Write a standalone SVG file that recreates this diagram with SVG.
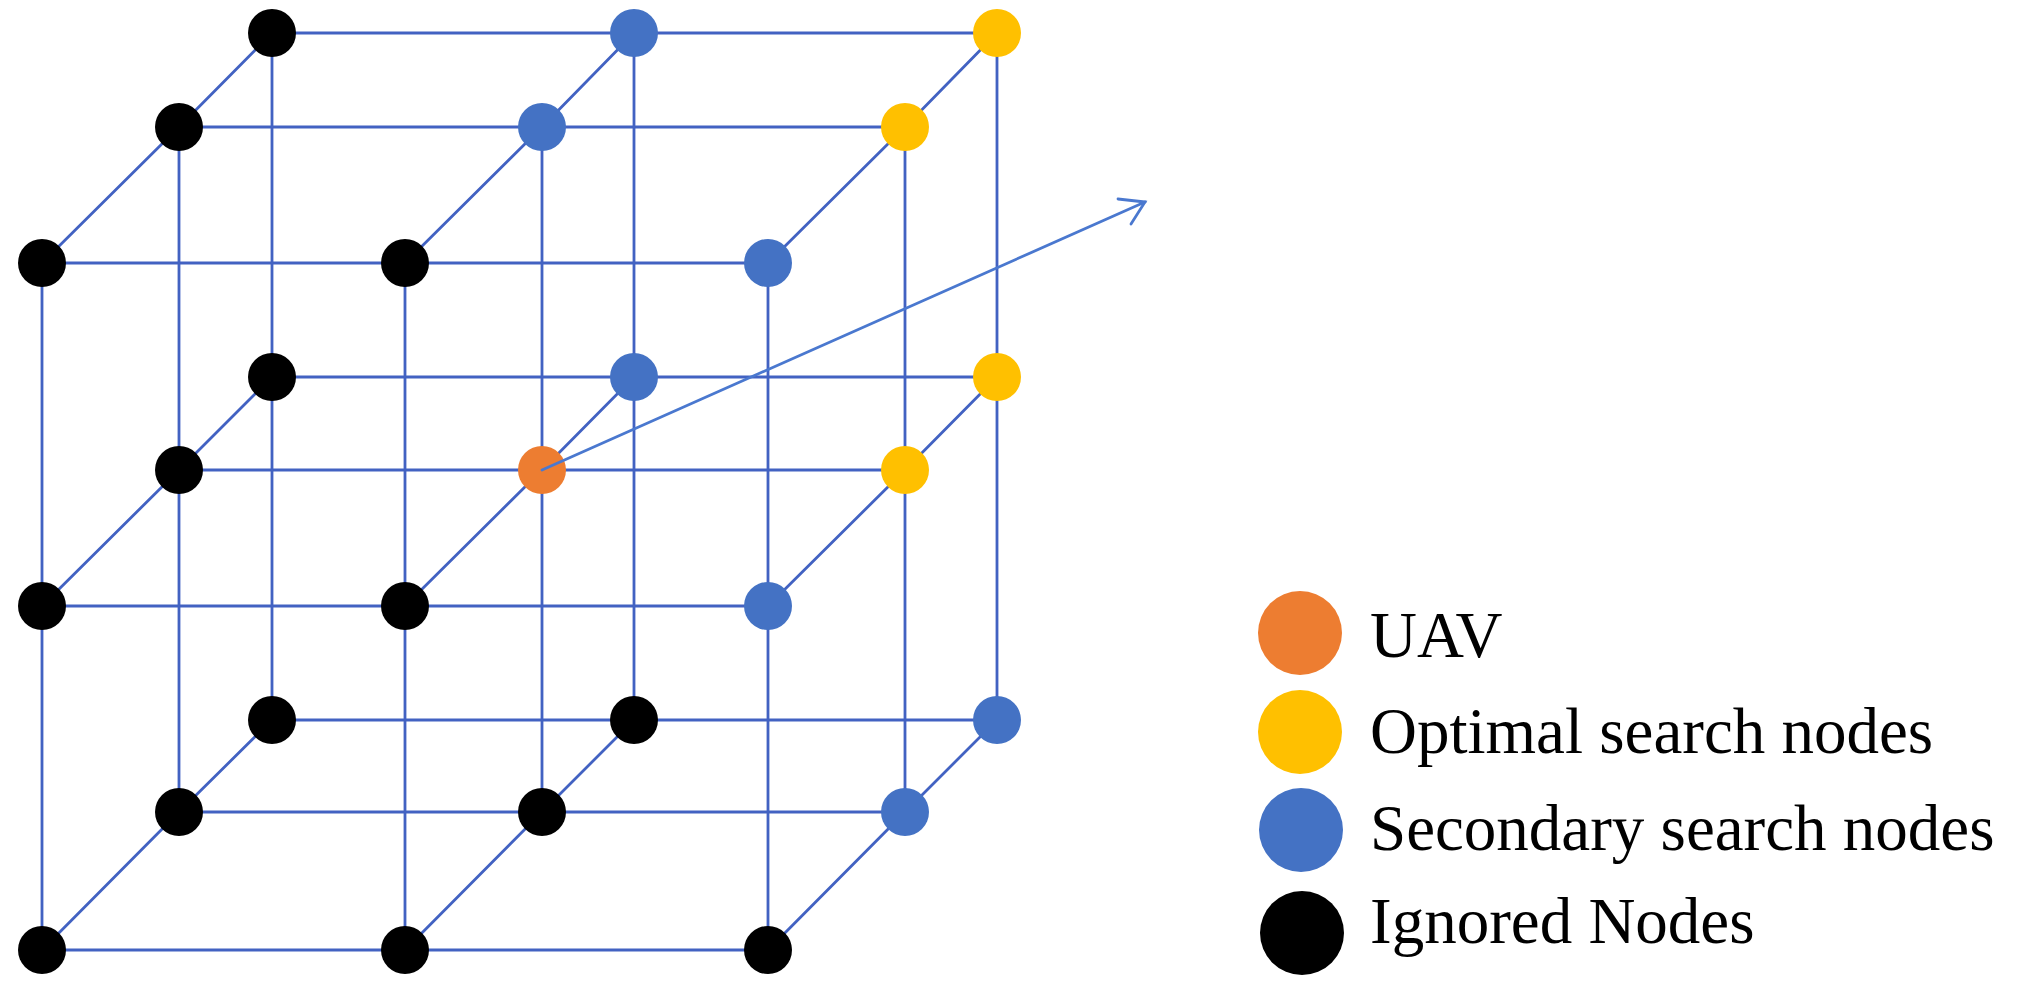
<svg xmlns="http://www.w3.org/2000/svg" width="2030" height="1007" viewBox="0 0 2030 1007">
<style>
.edge{stroke:#4262c2;stroke-width:2.8;fill:none}
.arrow{stroke:#4a78cf;stroke-width:2.8;fill:none;stroke-linecap:round}
.k{fill:#000000}
.b{fill:#4472c4}
.y{fill:#ffc000}
.o{fill:#ed7d31}
.lbl{font-family:"Liberation Serif","Times New Roman",serif;font-size:65px;fill:#000}
</style>
<rect width="2030" height="1007" fill="#ffffff"/>
<g id="connectors">
<line class="edge" x1="42" y1="263" x2="768" y2="263"/>
<line class="edge" x1="42" y1="606" x2="768" y2="606"/>
<line class="edge" x1="42" y1="950" x2="768" y2="950"/>
<line class="edge" x1="42" y1="263" x2="42" y2="950"/>
<line class="edge" x1="405" y1="263" x2="405" y2="950"/>
<line class="edge" x1="768" y1="263" x2="768" y2="950"/>
<line class="edge" x1="179" y1="127" x2="905" y2="127"/>
<line class="edge" x1="179" y1="470" x2="905" y2="470"/>
<line class="edge" x1="179" y1="812" x2="905" y2="812"/>
<line class="edge" x1="179" y1="127" x2="179" y2="812"/>
<line class="edge" x1="542" y1="127" x2="542" y2="812"/>
<line class="edge" x1="905" y1="127" x2="905" y2="812"/>
<line class="edge" x1="272" y1="33" x2="997" y2="33"/>
<line class="edge" x1="272" y1="377" x2="997" y2="377"/>
<line class="edge" x1="272" y1="720" x2="997" y2="720"/>
<line class="edge" x1="272" y1="33" x2="272" y2="720"/>
<line class="edge" x1="634" y1="33" x2="634" y2="720"/>
<line class="edge" x1="997" y1="33" x2="997" y2="720"/>
<polyline class="edge" points="42,263 179,127 272,33"/>
<polyline class="edge" points="405,263 542,127 634,33"/>
<polyline class="edge" points="768,263 905,127 997,33"/>
<polyline class="edge" points="42,606 179,470 272,377"/>
<polyline class="edge" points="405,606 542,470 634,377"/>
<polyline class="edge" points="768,606 905,470 997,377"/>
<polyline class="edge" points="42,950 179,812 272,720"/>
<polyline class="edge" points="405,950 542,812 634,720"/>
<polyline class="edge" points="768,950 905,812 997,720"/>
</g>
<g id="nodes">
<g id="back-r1-c1"><circle class="k" cx="272" cy="33" r="24"/></g>
<g id="back-r1-c2"><circle class="b" cx="634" cy="33" r="24"/></g>
<g id="back-r1-c3"><circle class="y" cx="997" cy="33" r="24"/></g>
<g id="back-r2-c1"><circle class="k" cx="272" cy="377" r="24"/></g>
<g id="back-r2-c2"><circle class="b" cx="634" cy="377" r="24"/></g>
<g id="back-r2-c3"><circle class="y" cx="997" cy="377" r="24"/></g>
<g id="back-r3-c1"><circle class="k" cx="272" cy="720" r="24"/></g>
<g id="back-r3-c2"><circle class="k" cx="634" cy="720" r="24"/></g>
<g id="back-r3-c3"><circle class="b" cx="997" cy="720" r="24"/></g>
<g id="mid-r1-c1"><circle class="k" cx="179" cy="127" r="24"/></g>
<g id="mid-r1-c2"><circle class="b" cx="542" cy="127" r="24"/></g>
<g id="mid-r1-c3"><circle class="y" cx="905" cy="127" r="24"/></g>
<g id="mid-r2-c1"><circle class="k" cx="179" cy="470" r="24"/></g>
<g id="uav"><circle class="o" cx="542" cy="470" r="24"/></g>
<g id="mid-r2-c3"><circle class="y" cx="905" cy="470" r="24"/></g>
<g id="mid-r3-c1"><circle class="k" cx="179" cy="812" r="24"/></g>
<g id="mid-r3-c2"><circle class="k" cx="542" cy="812" r="24"/></g>
<g id="mid-r3-c3"><circle class="b" cx="905" cy="812" r="24"/></g>
<g id="front-r1-c1"><circle class="k" cx="42" cy="263" r="24"/></g>
<g id="front-r1-c2"><circle class="k" cx="405" cy="263" r="24"/></g>
<g id="front-r1-c3"><circle class="b" cx="768" cy="263" r="24"/></g>
<g id="front-r2-c1"><circle class="k" cx="42" cy="606" r="24"/></g>
<g id="front-r2-c2"><circle class="k" cx="405" cy="606" r="24"/></g>
<g id="front-r2-c3"><circle class="b" cx="768" cy="606" r="24"/></g>
<g id="front-r3-c1"><circle class="k" cx="42" cy="950" r="24"/></g>
<g id="front-r3-c2"><circle class="k" cx="405" cy="950" r="24"/></g>
<g id="front-r3-c3"><circle class="k" cx="768" cy="950" r="24"/></g>
</g>
<g id="direction-arrow">
<line class="arrow" x1="542" y1="470" x2="1145" y2="202"/>
<polyline class="arrow" points="1118,199 1145,202 1131,224"/>
</g>
<g id="legend">
<g id="legend-uav"><circle class="o" cx="1300" cy="633" r="42"/><text class="lbl" x="1370" y="657">UAV</text></g>
<g id="legend-optimal"><circle class="y" cx="1300" cy="732" r="42"/><text class="lbl" x="1370" y="753">Optimal search nodes</text></g>
<g id="legend-secondary"><circle class="b" cx="1301" cy="830" r="42"/><text class="lbl" x="1370" y="850">Secondary search nodes</text></g>
<g id="legend-ignored"><circle class="k" cx="1302" cy="933" r="42"/><text class="lbl" x="1370" y="943">Ignored Nodes</text></g>
</g>
</svg>
